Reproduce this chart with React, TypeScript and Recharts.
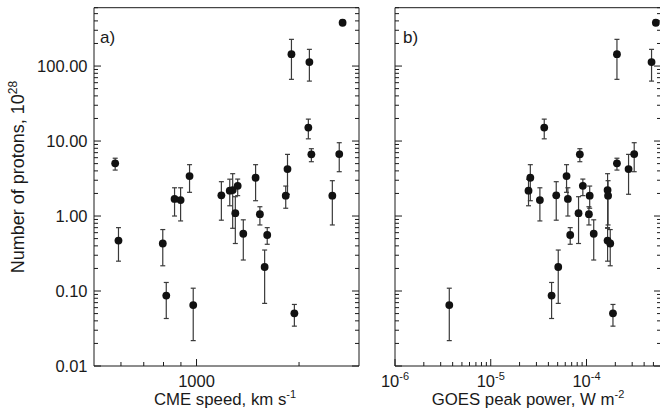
import React from "react";
import { ScatterChart, Scatter, XAxis, YAxis, ErrorBar } from "recharts";

// event values (same 28 events in both panels)
const cmeSpeed = [577, 590, 796, 815, 862, 898, 954, 978, 1183, 1252, 1277, 1300, 1321, 1372, 1491, 1535, 1585, 1613, 1828, 1850, 1900, 1938, 2130, 2145, 2174, 2505, 2625, 2685];
const goesPeak = [2.08e-4, 1.66e-4, 1.77e-4, 4.32e-5, 6.39e-5, 3.26e-5, 6.19e-5, 3.69e-6, 4.83e-5, 2.48e-5, 1.66e-4, 8.26e-5, 9.16e-5, 1.19e-4, 2.59e-5, 1.06e-4, 5.07e-5, 6.76e-5, 1.08e-4, 2.75e-4, 2.08e-4, 1.89e-4, 3.62e-5, 4.78e-4, 8.52e-5, 1.68e-4, 3.15e-4, 5.3e-4];
const protons = [5.04, 0.47, 0.43, 0.087, 1.69, 1.63, 3.41, 0.065, 1.89, 2.18, 2.22, 1.09, 2.53, 0.58, 3.24, 1.06, 0.209, 0.558, 1.87, 4.23, 144, 0.0504, 15.1, 113, 6.64, 1.87, 6.7, 378];
const protonsLow = [4.1, 0.25, 0.217, 0.043, 1.0, 0.86, 2.07, 0.0218, 0.88, 1.37, 0.686, 0.43, 1.87, 0.259, 1.6, 0.76, 0.0684, 0.42, 1.27, 1.95, 66.5, 0.034, 10.7, 63, 5.3, 0.76, 3.9, 350];
const protonsHigh = [5.9, 0.7, 0.66, 0.13, 2.38, 2.38, 4.84, 0.109, 2.87, 3.1, 3.67, 1.81, 3.11, 0.89, 4.84, 1.33, 0.352, 0.7, 2.51, 6.64, 227, 0.0662, 19.6, 167, 7.9, 2.96, 9.5, 410];

// axis ticks
const yMajor = [0.01, 0.1, 1, 10, 100];
const minorSteps = [2, 3, 4, 5, 6, 7, 8, 9];
const speedMajor = [1000];
const speedMinor = [600, 700, 800, 900, 2000];
const goesMajor = [1e-6, 1e-5, 1e-4];
const goesExp = ["-6", "-5", "-4"];

const yDomain = [0.01, 600];
const speedDomain = [500, 3000];
const goesDomain = [1e-6, 6e-4];

const rows = protons.map((n, i) => ({
  speed: cmeSpeed[i],
  goes: goesPeak[i],
  n,
  err: [n - protonsLow[i], protonsHigh[i] - n],
}));

const withMinor = (majors: number[], max: number) => {
  const out: number[] = [];
  majors.forEach((m) => {
    out.push(m);
    minorSteps.forEach((s) => {
      const v = +(m * s).toPrecision(3);
      if (v <= max) out.push(v);
    });
  });
  return out;
};

const yTicks = withMinor(yMajor, yDomain[1]);
const speedTicks = [...speedMinor.slice(0, 4), ...speedMajor, speedMinor[4]];
const goesTicks = withMinor(goesMajor, goesDomain[1]).filter((v) => v < goesDomain[1]);

const FONT = '"Liberation Sans", Arial, sans-serif';
const INK = "#1a1a1a";
const TICK_FS = 16.5;
const SUP_FS = 11;
const MAJ = 7;
const MIN = 4;

const isMajor = (list: number[], v: number) => list.some((m) => Math.abs(m - v) / m < 1e-6);

// tick renderers drawing inward ticks (IDL style)
const leftTick = (labels: boolean) => (p: any) => {
  const { x, y, payload } = p;
  const maj = isMajor(yMajor, payload.value);
  return (
    <g>
      <line x1={x} x2={x + (maj ? MAJ : MIN)} y1={y} y2={y} stroke={INK} strokeWidth={1} />
      {labels && maj && (
        <text x={x - 6.5} y={y + 6} textAnchor="end" fontFamily={FONT} fontSize={TICK_FS} fill={INK}>
          {payload.value.toFixed(2)}
        </text>
      )}
    </g>
  );
};

const rightTick = (p: any) => {
  const { x, y, payload } = p;
  const maj = isMajor(yMajor, payload.value);
  return <line x1={x} x2={x - (maj ? MAJ : MIN)} y1={y} y2={y} stroke={INK} strokeWidth={1} />;
};

const bottomTick = (majors: number[], label: (v: number) => React.ReactNode) => (p: any) => {
  const { x, y, payload } = p;
  const maj = isMajor(majors, payload.value);
  return (
    <g>
      <line x1={x} x2={x} y1={y} y2={y - (maj ? MAJ : MIN)} stroke={INK} strokeWidth={1} />
      {maj && (
        <text x={x} y={y + 21} textAnchor="middle" fontFamily={FONT} fontSize={TICK_FS} fill={INK}>
          {label(payload.value)}
        </text>
      )}
    </g>
  );
};

const topTick = (majors: number[]) => (p: any) => {
  const { x, y, payload } = p;
  const maj = isMajor(majors, payload.value);
  return <line x1={x} x2={x} y1={y} y2={y + (maj ? MAJ : MIN)} stroke={INK} strokeWidth={1} />;
};

const dot = (p: any) => <circle cx={p.cx} cy={p.cy} r={3.9} fill="#111" />;

const axisLine = { stroke: INK, strokeWidth: 1 };

interface PanelProps {
  xKey: string;
  xDomain: number[];
  xTicks: number[];
  xMajor: number[];
  xLabel: (v: number) => React.ReactNode;
  leftWidth: number;
  width: number;
  rightWidth: number;
  yLabels: boolean;
}

const Panel: React.FC<PanelProps> = ({ xKey, xDomain, xTicks, xMajor, xLabel, leftWidth, width, rightWidth, yLabels }) => (
  <ScatterChart width={width} height={416} margin={{ top: 0, right: 0, bottom: 0, left: 0 }}>
    <XAxis
      xAxisId="b"
      dataKey={xKey}
      type="number"
      scale="log"
      domain={xDomain}
      allowDataOverflow
      ticks={xTicks}
      interval={0}
      height={50}
      tickSize={0}
      tickMargin={0}
      tickLine={false}
      axisLine={axisLine}
      tick={bottomTick(xMajor, xLabel)}
    />
    <XAxis
      xAxisId="t"
      orientation="top"
      type="number"
      scale="log"
      domain={xDomain}
      allowDataOverflow
      ticks={xTicks}
      interval={0}
      height={7.7}
      tickSize={0}
      tickMargin={0}
      tickLine={false}
      axisLine={axisLine}
      tick={topTick(xMajor)}
    />
    <YAxis
      yAxisId="l"
      dataKey="n"
      type="number"
      scale="log"
      domain={yDomain}
      allowDataOverflow
      ticks={yTicks}
      interval={0}
      width={leftWidth}
      tickSize={0}
      tickMargin={0}
      tickLine={false}
      axisLine={axisLine}
      tick={leftTick(yLabels)}
    />
    <YAxis
      yAxisId="r"
      orientation="right"
      type="number"
      scale="log"
      domain={yDomain}
      allowDataOverflow
      ticks={yTicks}
      interval={0}
      width={rightWidth}
      tickSize={0}
      tickMargin={0}
      tickLine={false}
      axisLine={axisLine}
      tick={rightTick}
    />
    <Scatter data={rows} xAxisId="b" yAxisId="l" dataKey="n" shape={dot} isAnimationActive={false}>
      <ErrorBar dataKey="err" direction="y" width={2.5} stroke="#3a3a3a" strokeWidth={1.2} isAnimationActive={false} />
    </Scatter>
  </ScatterChart>
);

export default function App() {
  return (
    <div style={{ position: "absolute", left: 0, top: 0, width: 660, height: 416, overflow: "hidden", background: "#fff" }}>
      <div style={{ position: "absolute", left: 0, top: 0 }}>
        <Panel
          xKey="speed"
          xDomain={speedDomain}
          xTicks={speedTicks}
          xMajor={speedMajor}
          xLabel={(v) => String(v)}
          leftWidth={94}
          width={370}
          rightWidth={11}
          yLabels
        />
      </div>
      <div style={{ position: "absolute", left: 370, top: 0 }}>
        <Panel
          xKey="goes"
          xDomain={goesDomain}
          xTicks={goesTicks}
          xMajor={goesMajor}
          xLabel={(v) => {
            const i = goesMajor.findIndex((m) => Math.abs(m - v) / m < 1e-6);
            return (
              <>
                <tspan>10</tspan>
                <tspan dy={-7} fontSize={SUP_FS}>{goesExp[i]}</tspan>
              </>
            );
          }}
          leftWidth={25}
          width={300}
          rightWidth={9}
          yLabels={false}
        />
      </div>
      <svg width={660} height={416} style={{ position: "absolute", left: 0, top: 0, pointerEvents: "none" }}>
        <g fontFamily={FONT} fill={INK}>
          <text x={100} y={43} fontSize={17}>a)</text>
          <text x={403} y={43} fontSize={17}>b)</text>
          <text x={225} y={405} textAnchor="middle" fontSize={16.8}>
            CME speed, km s<tspan dy={-7} fontSize={SUP_FS}>-1</tspan>
          </text>
          <text x={528} y={405} textAnchor="middle" fontSize={16.8}>
            GOES peak power, W m<tspan dy={-7} fontSize={SUP_FS}>-2</tspan>
          </text>
          <text x={24} y={177} textAnchor="middle" fontSize={18} transform="rotate(-90 24 177)">
            Number of protons, 10<tspan dy={-7.5} fontSize={12}>28</tspan>
          </text>
        </g>
      </svg>
    </div>
  );
}
